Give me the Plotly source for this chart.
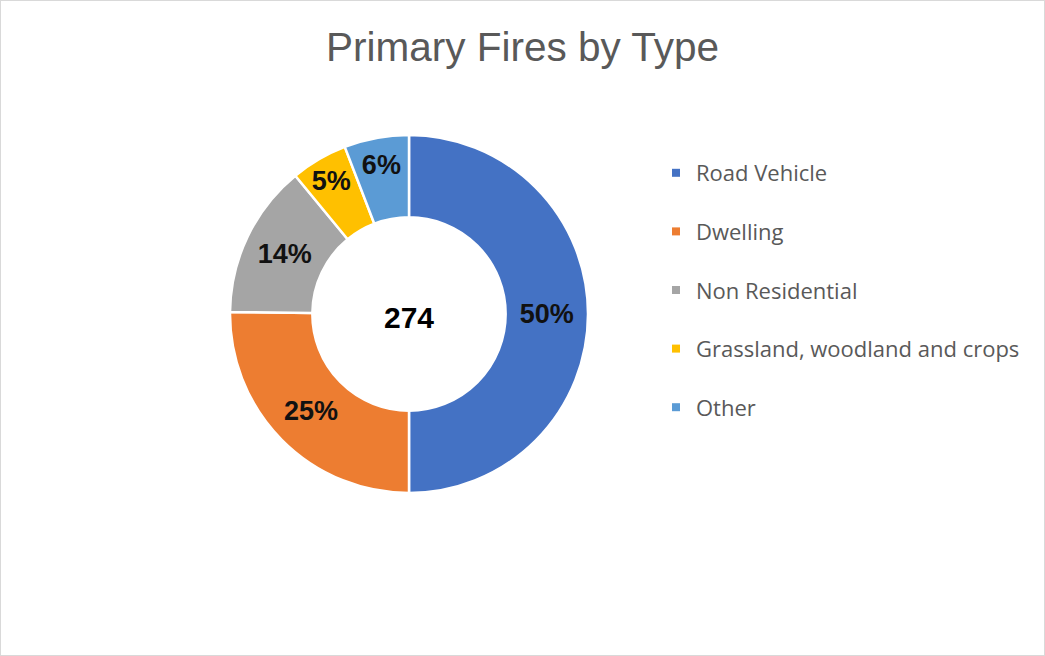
import plotly.graph_objects as go

categories = ["Road Vehicle", "Dwelling", "Non Residential", "Grassland, woodland and crops", "Other"]
values = [137, 69, 38, 14, 16]
colors = ["#4472C4", "#ED7D31", "#A5A5A5", "#FFC000", "#5B9BD5"]
title_text = "Primary Fires by Type"

W, H = 1045, 656
cx, cy, R = 409, 314, 179

total = sum(values)

fig = go.Figure()
fig.add_trace(go.Pie(
    labels=categories,
    values=values,
    hole=0.54,
    sort=False,
    direction="clockwise",
    rotation=0,
    marker=dict(colors=colors, line=dict(color="white", width=2.5)),
    texttemplate="%{percent:.0%}",
    textposition="inside",
    insidetextorientation="horizontal",
    textfont=dict(family="Liberation Sans", size=27, color="#111111", weight="bold"),
    title=dict(text=f"<b>{total}</b>", position="middle center",
               font=dict(family="Liberation Sans", size=30, color="black")),
    domain=dict(x=[(cx - R) / W, (cx + R) / W], y=[1 - (cy + R) / H, 1 - (cy - R) / H]),
    showlegend=False,
    hoverinfo="label+value+percent",
))

# legend entries (one per category)
for i, (cat, col) in enumerate(zip(categories, colors)):
    fig.add_trace(go.Scatter(
        x=[None], y=[None], mode="markers", name=cat,
        marker=dict(symbol="square", size=8, color=col),
        legendgroup=f"g{i}", showlegend=True,
    ))

fig.update_layout(
    width=W, height=H,
    margin=dict(l=0, r=0, t=0, b=0),
    paper_bgcolor="white", plot_bgcolor="white",
    title=dict(text=title_text, x=0.5, xanchor="center", y=1 - 47 / H, yanchor="middle",
               font=dict(family="Liberation Sans", size=40.5, color="#595959")),
    xaxis=dict(visible=False), yaxis=dict(visible=False),
    legend=dict(x=656 / W, xanchor="left", y=1 - 152 / H, yanchor="top",
                font=dict(family="Open Sans", size=22, color="#595959"),
                tracegroupgap=27, bgcolor="rgba(0,0,0,0)", itemclick=False),
    uniformtext=dict(minsize=27, mode="show"),
    shapes=[dict(type="rect", xref="paper", yref="paper", x0=0, y0=0, x1=1, y1=1,
                 line=dict(color="#D9D9D9", width=2), layer="above")],
)

fig.write_html("out.html", config={"displayModeBar": False},
               post_script="document.body.style.margin='0';")
